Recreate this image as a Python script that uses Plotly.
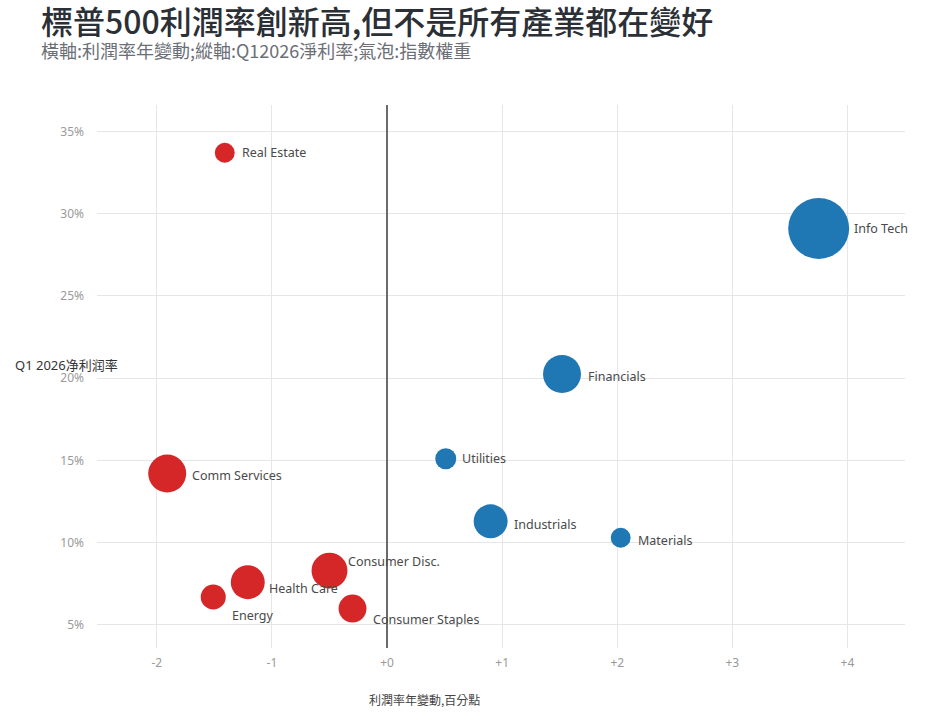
import plotly.graph_objects as go
import math

# ---- data ----
sectors = ["Real Estate", "Info Tech", "Financials", "Utilities", "Industrials",
           "Materials", "Comm Services", "Consumer Disc.", "Health Care",
           "Energy", "Consumer Staples"]
margin_change = [-1.41, 3.75, 1.52, 0.51, 0.90, 2.03, -1.91, -0.50, -1.21, -1.51, -0.30]
net_margin = [33.7, 29.1, 20.25, 15.1, 11.3, 10.3, 14.2, 8.3, 7.6, 6.7, 6.0]
index_weight = [3.4, 32.0, 12.4, 3.8, 9.9, 3.4, 12.4, 11.1, 9.9, 5.4, 6.7]
x_ticks = [-2, -1, 0, 1, 2, 3, 4]
x_tick_labels = ["-2", "-1", "+0", "+1", "+2", "+3", "+4"]
y_ticks = [5, 10, 15, 20, 25, 30, 35]
y_tick_labels = ["5%", "10%", "15%", "20%", "25%", "30%", "35%"]

title_text = "標普500利潤率創新高,但不是所有產業都在變好"
subtitle_text = "橫軸:利潤率年變動;縱軸:Q12026淨利率;氣泡:指數權重"
x_title = "利潤率年變動,百分點"
y_title = "Q1 2026净利润率"

# ---- styling ----
RED = "#d62728"
BLUE = "#1f77b4"
SIZEREF = 32.0 / (2 * 30.5 ** 2)
label_gap = [5, 3, 5, 4, 4, 5, 4, -1, 2, 4, 5]
label_dy = [0, 0, -2, 0, -3, -3, -2, 9, -6, -19, -11]

colors = [RED if v < 0 else BLUE for v in margin_change]

fig = go.Figure()
fig.add_trace(go.Scatter(
    x=margin_change, y=net_margin, mode="markers",
    text=sectors,
    marker=dict(size=index_weight, sizemode="area", sizeref=SIZEREF,
                color=colors, opacity=1, line=dict(width=0)),
    hovertemplate="%{text}<br>%{x:+.2f}<br>%{y:.1f}%<extra></extra>",
    showlegend=False,
))

annotations = []
for name, xv, yv, w, g, dy in zip(sectors, margin_change, net_margin,
                                  index_weight, label_gap, label_dy):
    r = math.sqrt(w / (2 * SIZEREF))
    annotations.append(dict(
        x=xv, y=yv, xref="x", yref="y", text=name, showarrow=False,
        xanchor="left", yanchor="middle", xshift=r + g, yshift=dy,
        font=dict(family="Noto Sans, Open Sans, sans-serif", size=12.5, color="#4a4a4a"),
    ))

annotations += [
    dict(text=title_text, xref="paper", yref="paper", x=-0.072, y=1.156,
         xanchor="left", yanchor="middle", showarrow=False,
         font=dict(family="Noto Sans CJK TC Medium, Noto Sans CJK TC", size=32,
                   color="#2b2f36")),
    dict(text=subtitle_text, xref="paper", yref="paper", x=-0.072, y=1.101,
         xanchor="left", yanchor="middle", showarrow=False,
         font=dict(family="Noto Sans CJK TC", size=18, color="#6b6f76")),
    dict(text=y_title, xref="paper", yref="y", x=-0.104, y=20.8,
         xanchor="left", yanchor="middle", showarrow=False,
         font=dict(family="Noto Sans, Noto Sans CJK SC", size=13, color="#333333")),
    dict(text=x_title, xref="paper", yref="paper", x=0.405, y=-0.094,
         xanchor="center", yanchor="middle", showarrow=False,
         font=dict(family="Noto Sans CJK TC", size=12, color="#444444")),
]

fig.update_layout(
    width=934, height=720,
    margin=dict(l=97, r=29, t=105, b=72),
    paper_bgcolor="white", plot_bgcolor="white",
    annotations=annotations,
    xaxis=dict(range=[-2.52, 4.5], tickvals=x_ticks, ticktext=x_tick_labels,
               showgrid=True, gridcolor="#e6e6e6", gridwidth=1,
               zeroline=True, zerolinecolor="#6b6b6b", zerolinewidth=1.8,
               showline=False, ticks="", ticklabelstandoff=6,
               tickfont=dict(family="Noto Sans, sans-serif", size=12, color="#9a9a9a")),
    yaxis=dict(range=[3.6, 36.6], tickvals=y_ticks, ticktext=y_tick_labels,
               showgrid=True, gridcolor="#e6e6e6", gridwidth=1,
               zeroline=False, showline=False, ticks="", ticklabelstandoff=12,
               tickfont=dict(family="Noto Sans, sans-serif", size=12, color="#9a9a9a")),
)

fig.write_html("out.html")
